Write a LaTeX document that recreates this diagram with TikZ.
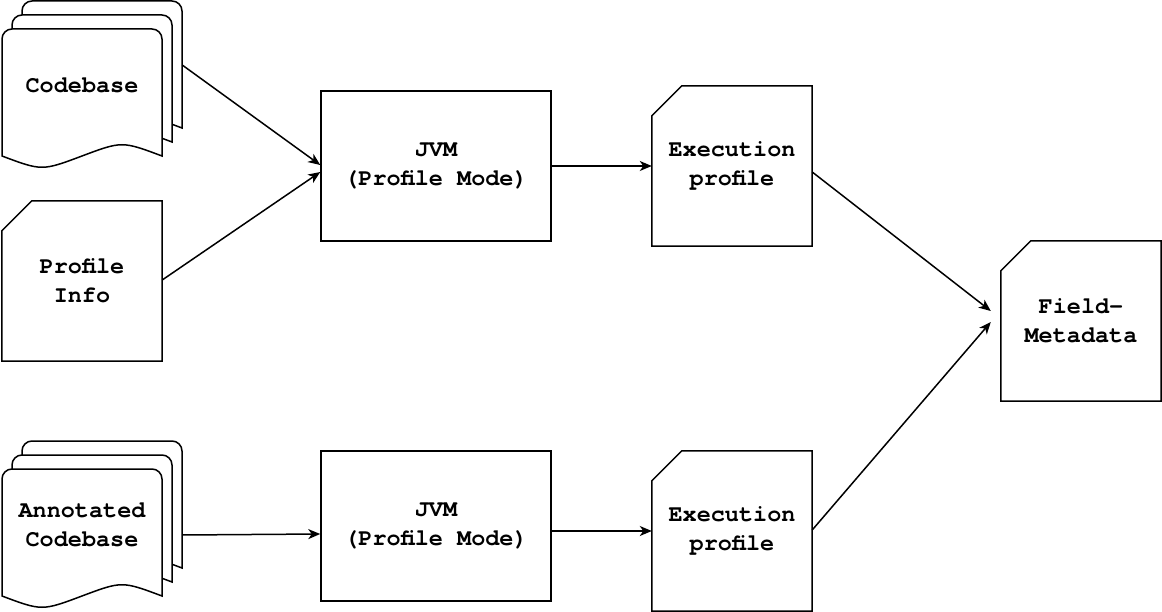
\documentclass[tikz,border=0pt]{standalone}
\usepackage{fontspec}
\setmonofont{TeX Gyre Cursor}
\usetikzlibrary{arrows.meta,backgrounds}

\newcommand{\boxfont}{\fontsize{23.5}{29}\selectfont\ttfamily\bfseries}

\tikzset{
  outline/.style={line width=1.5pt},
  block/.style={draw, outline, minimum width=230pt, minimum height=150pt, align=center, font=\boxfont},
  paper/.style={minimum width=160pt, minimum height=160pt, align=center, font=\boxfont},
  pile/.style={minimum width=160pt, minimum height=127pt, align=center, font=\boxfont},
  link/.style={outline, -{Stealth[length=12pt,width=10pt,inset=3.5pt]}}
}

% card with the top left corner cut off
\newcommand{\cutcard}[1]{%
  \draw[outline] ([yshift=-30pt]#1.north west) -- ([xshift=30pt]#1.north west)
    -- (#1.north east) -- (#1.south east) -- (#1.south west) -- cycle;}

% one sheet of a stack, #2/#3 = its top left corner seen from the node centre
\newcommand{\docsheet}[3]{%
  \filldraw[outline, fill=white, shift={(#1.center)}, shift={(#2,#3)}]
    (0,127) -- (0,10) arc[start angle=180, end angle=90, radius=10pt]
    -- (150,0) arc[start angle=90, end angle=0, radius=10pt]
    -- (160,127) .. controls (120,112) .. (80,127) .. controls (40,142) .. (0,127) -- cycle;}

\begin{document}
\begin{tikzpicture}[x=1pt, y=-1pt]
  \useasboundingbox (0,0) rectangle (1162,612);

  % inputs
  \node[pile] (code) at (82,85) {Codebase};
  \node[paper] (pinfo) at (82,281) {Profile\\Info};
  \node[pile] (anno) at (82,525) {Annotated\\Codebase};

  % JVM runs
  \node[block] (jvmA) at (436,166) {JVM\\(Profile Mode)};
  \node[block] (jvmB) at (436,526) {JVM\\(Profile Mode)};

  % profiles and result
  \node[paper] (execA) at (732,166) {Execution\\profile};
  \node[paper] (execB) at (732,531) {Execution\\profile};
  \node[paper] (field) at (1081,321) {Field-\\Metadata};

  \cutcard{pinfo} \cutcard{execA} \cutcard{execB} \cutcard{field}

  % stacks of sheets behind the texts
  \begin{scope}[on background layer]
    \foreach \src in {code,anno} {
      \docsheet{\src}{-60}{-84}
      \docsheet{\src}{-70}{-70}
      \docsheet{\src}{-80}{-56}
    }
  \end{scope}

  % arrows
  \draw[link] ([xshift=20pt,yshift=20pt]code.east) -- ([yshift=1pt]jvmA.west);
  \draw[link] ([yshift=1pt]pinfo.east) -- ([yshift=-6pt]jvmA.west);
  \draw[link] (jvmA.east) -- (execA.west);
  \draw[link] ([xshift=20pt,yshift=-10pt]anno.east) -- ([yshift=-8pt]jvmB.west);
  \draw[link] ([yshift=-5pt]jvmB.east) -- (execB.west);
  \draw[link] ([yshift=-6pt]execA.east) -- ([xshift=-10pt,yshift=10pt]field.west);
  \draw[link] ([yshift=1pt]execB.east) -- ([xshift=-10pt,yshift=-1pt]field.west);
\end{tikzpicture}
\end{document}
